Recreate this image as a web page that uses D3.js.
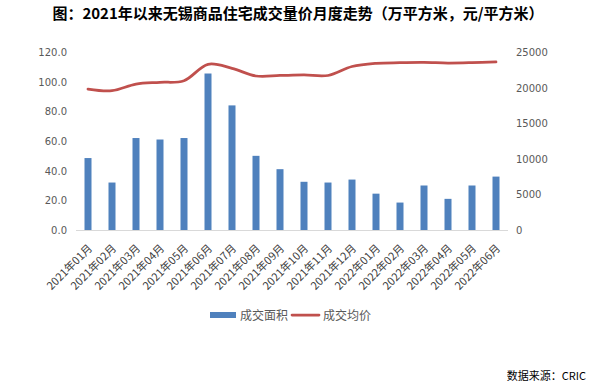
<!DOCTYPE html>
<html>
<head>
<meta charset="utf-8">
<script src="https://cdn.jsdelivr.net/npm/d3@7.9.0/dist/d3.min.js"></script>
<style>
  body { margin: 0; background: #fff; }
  svg { display: block; }
</style>
</head>
<body>
<svg width="595" height="385"></svg>
<script>
// months on the x axis
const months = [
  '2021年01月', '2021年02月', '2021年03月', '2021年04月', '2021年05月', '2021年06月',
  '2021年07月', '2021年08月', '2021年09月', '2021年10月', '2021年11月', '2021年12月',
  '2022年01月', '2022年02月', '2022年03月', '2022年04月', '2022年05月', '2022年06月'
];
// 成交面积 (万平方米)
const area = [48.5, 32, 62, 61, 62, 105.5, 84, 50, 41, 32.5, 32, 34, 24.5, 18.5, 30, 21, 30, 36];
// 成交均价 (元/平方米)
const price = [19800, 19570, 20500, 20740, 20970, 23270, 22710, 21630, 21700, 21770, 21700, 22960,
  23410, 23500, 23530, 23450, 23500, 23600];
const leftTicks = [0, 20, 40, 60, 80, 100, 120];
const rightTicks = [0, 5000, 10000, 15000, 20000, 25000];

const svg = d3.select('svg');
const font = '"DejaVu Sans", sans-serif';
const cjk = '"Noto Sans CJK SC", sans-serif';

const plotL = 76, plotR = 508, plotT = 52, plotB = 230;

const x = d3.scaleBand().domain(months).range([plotL, plotR]);
const yL = d3.scaleLinear().domain([0, 120]).range([plotB, plotT]);
const yR = d3.scaleLinear().domain([0, 25000]).range([plotB, plotT]);

// title
svg.append('text')
  .attr('x', 298).attr('y', 19)
  .attr('text-anchor', 'middle')
  .attr('font-family', cjk).attr('font-weight', 'bold')
  .attr('font-size', 15).attr('fill', '#000')
  .text('图：2021年以来无锡商品住宅成交量价月度走势（万平方米，元/平方米）');

// left axis labels
svg.append('g').selectAll('text').data(leftTicks).join('text')
  .attr('x', 67).attr('y', d => yL(d) + 4)
  .attr('text-anchor', 'end')
  .attr('font-family', font).attr('font-size', 10).attr('fill', '#595959')
  .text(d => d.toFixed(1));

// right axis labels
svg.append('g').selectAll('text').data(rightTicks).join('text')
  .attr('x', 516).attr('y', d => yR(d) + 4)
  .attr('font-family', font).attr('font-size', 10).attr('fill', '#595959')
  .text(d => d);

// bars
const bw = 7;
svg.append('g').selectAll('rect').data(area).join('rect')
  .attr('x', (d, i) => x(months[i]) + x.bandwidth() / 2 - bw / 2)
  .attr('y', d => yL(d))
  .attr('width', bw)
  .attr('height', d => plotB - yL(d))
  .attr('fill', '#4f81bd');

// axis line
svg.append('line')
  .attr('x1', plotL).attr('x2', plotR)
  .attr('y1', plotB + 0.5).attr('y2', plotB + 0.5)
  .attr('stroke', '#d9d9d9').attr('stroke-width', 1);

// price line
const line = d3.line()
  .x((d, i) => x(months[i]) + x.bandwidth() / 2)
  .y(d => yR(d))
  .curve(d3.curveCatmullRom.alpha(0.5));
svg.append('path')
  .datum(price)
  .attr('d', line)
  .attr('fill', 'none')
  .attr('stroke', '#c0504d')
  .attr('stroke-width', 2.75)
  .attr('stroke-linecap', 'round');

// x labels, rotated
svg.append('g').selectAll('text').data(months).join('text')
  .attr('transform', d => `translate(${x(d) + x.bandwidth() / 2 + 5},${plotB + 19}) rotate(-45)`)
  .attr('text-anchor', 'end')
  .attr('font-family', cjk).attr('font-size', 11).attr('fill', '#404040')
  .text(d => d);

// legend
const lg = svg.append('g');
lg.append('rect').attr('x', 210).attr('y', 312).attr('width', 26).attr('height', 6).attr('fill', '#4f81bd');
lg.append('text').attr('x', 240).attr('y', 320)
  .attr('font-family', cjk).attr('font-size', 12).attr('fill', '#595959').text('成交面积');
lg.append('line').attr('x1', 292).attr('x2', 319).attr('y1', 315).attr('y2', 315)
  .attr('stroke', '#c0504d').attr('stroke-width', 2.75).attr('stroke-linecap', 'round');
lg.append('text').attr('x', 323).attr('y', 320)
  .attr('font-family', cjk).attr('font-size', 12).attr('fill', '#595959').text('成交均价');

// source
svg.append('text')
  .attr('x', 586).attr('y', 380)
  .attr('text-anchor', 'end')
  .attr('font-family', cjk).attr('font-size', 11).attr('fill', '#000')
  .text('数据来源：CRIC');
</script>
</body>
</html>
